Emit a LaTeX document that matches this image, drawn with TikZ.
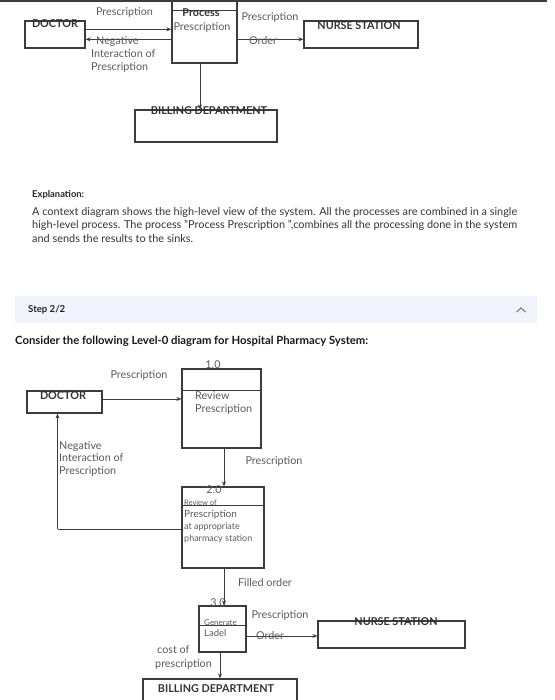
\documentclass[tikz,border=0pt]{standalone}
\usepackage{fontspec}
\setmainfont{Lato}
\usetikzlibrary{arrows.meta}
\definecolor{linecol}{HTML}{3C3C3C}
\definecolor{labelcol}{HTML}{5A5A5A}
\definecolor{titlecol}{HTML}{333333}
\definecolor{stepcol}{HTML}{F0F3FB}
\begin{document}
\begin{tikzpicture}[x=1pt,y=-1pt,
    box/.style={draw=linecol, line width=1.2pt, inner sep=0pt},
    divider/.style={draw=linecol, line width=1.2pt},
    flow/.style={draw=linecol, line width=1pt, -{Stealth[length=5pt,width=4pt]}},
    link/.style={draw=linecol, line width=1pt},
    lbl/.style={text=labelcol, inner sep=0pt, font=\fontsize{10.8}{12.7}\selectfont},
    small/.style={text=labelcol, inner sep=0pt, font=\fontsize{9}{11.5}\selectfont},
    ttl/.style={text=titlecol, inner sep=0pt, font=\fontsize{10.8}{12}\selectfont\bfseries},
    txt/.style={text=titlecol, inner sep=0pt, font=\fontsize{10.9}{13.4}\selectfont}]
    \useasboundingbox (0,0) rectangle (554,700);

    % Top edge of the page
    \draw[line width=2pt, draw=linecol] (0,1) -- (547,1);

    % Context diagram: boxes
    \node[box, minimum width=60pt, minimum height=27pt] (doctorA) at (55,34.5) {};
    \node[box, minimum width=65pt, minimum height=63pt] (procA) at (204.5,31.5) {};
    \node[box, minimum width=114pt, minimum height=27pt] (nurseA) at (361,34.5) {};
    \node[box, minimum width=142pt, minimum height=32pt] (billA) at (206,126) {};
    \draw[divider] ([yshift=-11pt]procA.north west) -- ([yshift=-11pt]procA.north east);

    % Context diagram: box texts
    \node[ttl] (doctorAtxt) at (55,24) {DOCTOR};
    \node[ttl] (procAtxt) at (201,13) {Process};
    \node[lbl] (procAsub) at (202,27) {Prescription};
    \node[ttl] (nurseAtxt) at (359,26) {NURSE STATION};
    \node[ttl] (billAtxt) at (209,111) {BILLING DEPARTMENT};

    % Context diagram: flows
    \draw[flow] ([yshift=5.2pt]doctorA.east) -- ([yshift=5.2pt]doctorA.east -| procA.west);
    \draw[flow] ([yshift=-4.8pt]doctorA.east -| procA.west) -- ([yshift=-4.8pt]doctorA.east);
    \draw[flow] ([yshift=-4.8pt]nurseA.west -| procA.east) -- ([yshift=-4.8pt]nurseA.west);
    \draw[flow] ([xshift=-4.5pt]procA.south) -- ([xshift=-4.5pt]procA.south |- billA.north);

    % Context diagram: flow labels
    \node[lbl] (rxA) at (124.5,12.7) {Prescription};
    \node[lbl, align=left, anchor=north west] (negA) at (91,36.5) {\hspace*{5pt}Negative\\Interaction of\\Prescription};
    \node[lbl] (rxB) at (270,17.7) {Prescription};
    \node[lbl] (orderA) at (263,40.5) {Order};

    % Explanation
    \node[ttl, font=\fontsize{9.4}{11}\selectfont\bfseries, text=black!85, anchor=west] (explhead) at (32,195) {Explanation:};
    \node[txt, align=left, anchor=north west] (expltext) at (32,207)
        {A context diagram shows the high-level view of the system. All the processes are combined in a single\\
         high-level process. The process "Process Prescription ",combines all the processing done in the system\\
         and sends the results to the sinks.};

    % Step bar
    \fill[stepcol] (15,296) rectangle (537,323);
    \node[ttl, font=\fontsize{9.6}{11}\selectfont\bfseries, text=black!85, anchor=west] (stephead) at (28,310) {Step 2/2};
    \draw[draw=labelcol, line width=0.8pt] (516.5,312) -- (521,308) -- (525.5,312);
    \node[ttl, font=\fontsize{11.3}{13}\selectfont\bfseries, text=black!90, anchor=west] (consider) at (15,341) {Consider the following Level-0 diagram for Hospital Pharmacy System:};

    % Level-0 diagram: boxes
    \node[box, minimum width=75pt, minimum height=22pt] (doctorB) at (64.5,402) {};
    \node[box, minimum width=79pt, minimum height=79pt] (reviewB) at (221.5,408.5) {};
    \node[box, minimum width=82pt, minimum height=81pt] (stationB) at (223,527.5) {};
    \node[box, minimum width=47pt, minimum height=46pt] (labelB) at (222.5,629) {};
    \node[box, minimum width=147pt, minimum height=27pt] (nurseB) at (391.5,634.5) {};
    \node[box, minimum width=154pt, minimum height=30pt] (billB) at (220,694) {};
    \draw[divider] ([yshift=-22pt]reviewB.north west) -- ([yshift=-22pt]reviewB.north east);
    \draw[divider] ([yshift=-19pt]stationB.north west) -- ([yshift=-19pt]stationB.north east);
    \draw[divider] ([yshift=-20pt]labelB.north west) -- ([yshift=-20pt]labelB.north east);

    % Level-0 diagram: box texts
    \node[ttl] (doctorBtxt) at (63,396) {DOCTOR};
    \node[lbl] (numA) at (213,365) {1.0};
    \node[lbl, align=left, anchor=north west] (reviewBtxt) at (195,391.5) {Review\\Prescription};
    \node[lbl] (numB) at (214,490) {2.0};
    \node[small, font=\fontsize{7.5}{8}\selectfont, anchor=west] (stationBtop) at (184,503) {Review of};
    \node[lbl, font=\fontsize{10}{11}\selectfont, anchor=west] (stationBtxt) at (184,514.5) {Prescription};
    \node[small, align=left, anchor=north west] (stationBsub) at (184,523) {at appropriate\\pharmacy station};
    \node[lbl] (numC) at (218,603) {3.0};
    \node[small, font=\fontsize{8}{9}\selectfont, anchor=west] (labelBtop) at (204,623) {Generate};
    \node[lbl, font=\fontsize{9.5}{11}\selectfont, anchor=west] (labelBtxt) at (204,633.5) {Ladel};
    \node[ttl] (nurseBtxt) at (396,622) {NURSE STATION};
    \node[ttl] (billBtxt) at (216,689) {BILLING DEPARTMENT};

    % Level-0 diagram: flows
    \draw[flow] ([yshift=3pt]doctorB.east) -- ([yshift=3pt]doctorB.east -| reviewB.west);
    \draw[flow] ([xshift=2.5pt]reviewB.south) -- ([xshift=2.5pt]reviewB.south |- stationB.north);
    \draw[link] ([yshift=-1.5pt]stationB.west) -- ([yshift=-1.5pt, xshift=-7pt]stationB.west -| doctorB.south);
    \draw[flow] ([yshift=-1.5pt, xshift=-7pt]stationB.west -| doctorB.south) -- ([xshift=-7pt]doctorB.south);
    \draw[flow] ([xshift=1pt]stationB.south) -- ([xshift=1pt]stationB.south |- labelB.north);
    \draw[flow] ([yshift=-7pt]labelB.east) -- ([yshift=-7pt]labelB.east -| nurseB.west);
    \draw[flow] ([xshift=-2.5pt]labelB.south) -- ([xshift=-2.5pt]labelB.south |- billB.north);

    % Level-0 diagram: flow labels
    \node[lbl] (rxC) at (139,375) {Prescription};
    \node[lbl, align=left, anchor=north west] (negB) at (59,441) {Negative\\Interaction of\\Prescription};
    \node[lbl] (rxD) at (274,461) {Prescription};
    \node[lbl] (filled) at (265,583) {Filled order};
    \node[lbl] (rxE) at (280,615.5) {Prescription};
    \node[lbl] (orderB) at (270,636) {Order};
    \node[lbl, align=left, anchor=north west] (cost) at (157,645) {cost of\\[2pt]\hspace*{-2pt}prescription};
\end{tikzpicture}
\end{document}
